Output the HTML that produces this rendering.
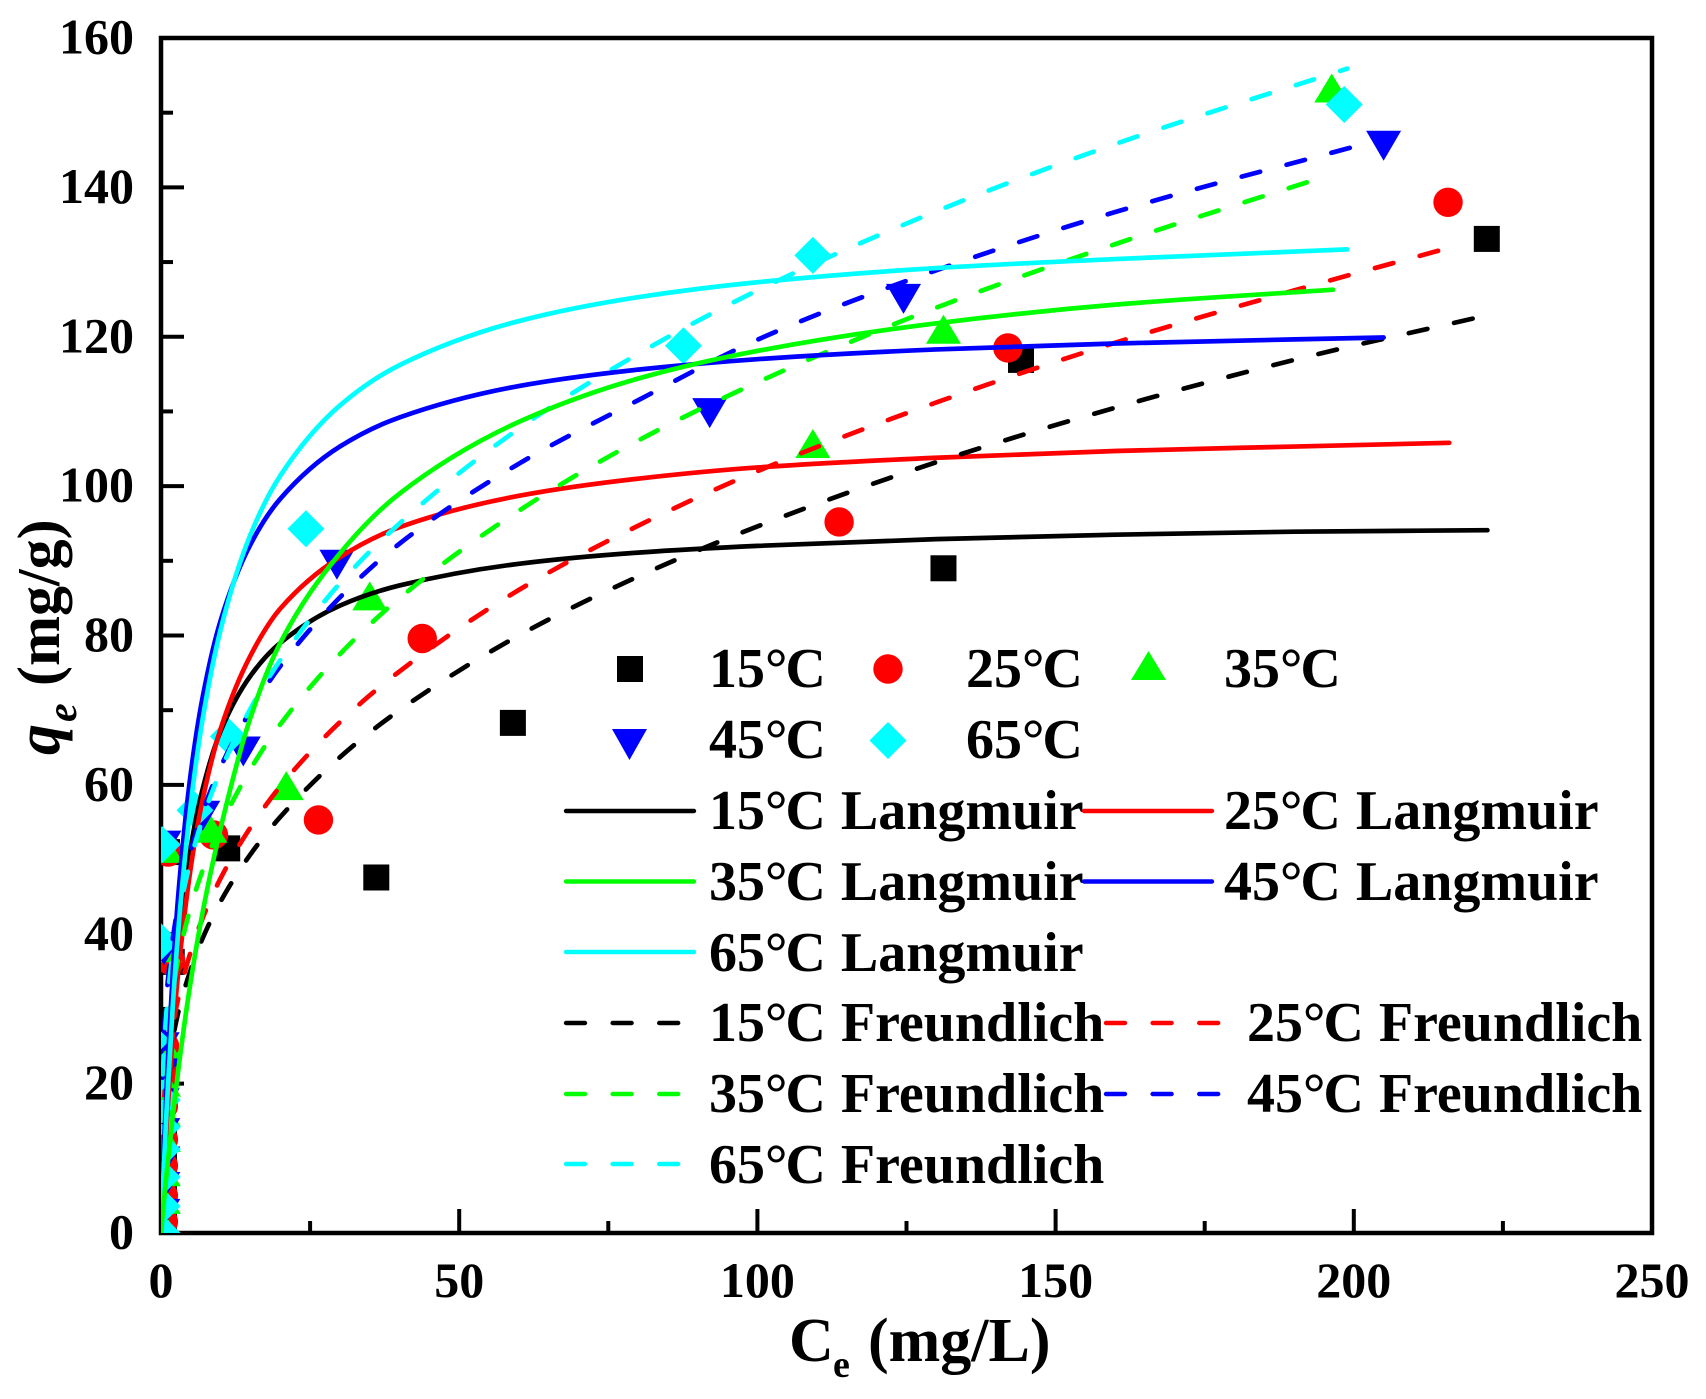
<!DOCTYPE html>
<html lang="en">
<head>
<meta charset="utf-8">
<title>Adsorption isotherms</title>
<style>
html,body{margin:0;padding:0;background:#fff;}
svg{display:block;font-family:"Liberation Serif",serif;font-weight:bold;}
</style>
</head>
<body>
<svg id="chart" xmlns="http://www.w3.org/2000/svg" width="1706" height="1399" viewBox="0 0 1706 1399">
<defs><clipPath id="plot-clip"><rect x="161" y="38" width="1491" height="1195"/></clipPath></defs>
<rect x="0" y="0" width="1706" height="1399" fill="#fff"/>
<g id="axes"></g>
<g id="marks" clip-path="url(#plot-clip)"></g>
<g id="curves" clip-path="url(#plot-clip)" fill="none" stroke-width="4.7" stroke-linecap="round" stroke-linejoin="round"></g>

<text font-size="62" fill="#000"><tspan x="789" y="1361">C</tspan><tspan x="833" y="1377" font-size="38">e</tspan><tspan x="868" y="1361">(mg/L)</tspan></text>
<g transform="translate(59,755) rotate(-90)" fill="#000">
<text x="0" y="0" font-size="62" font-style="italic">q</text>
<text x="33" y="17" font-size="42" font-style="italic">e</text>
<text x="69" y="0" font-size="60">(mg/g)</text>
</g>

<g font-size="56" fill="#000">
<g><rect x="617" y="656" width="26" height="26" fill="#000"/><text x="709" y="687">15°<tspan dx="-2">C</tspan></text></g>
<g><circle cx="888" cy="669" r="14.7" fill="#f00"/><text x="966" y="687">25°<tspan dx="-2">C</tspan></text></g>
<g><polygon points="1148.5,651 1166,680 1131,680" fill="#0f0"/><text x="1224" y="687">35°<tspan dx="-2">C</tspan></text></g>
<g><polygon points="612,729 647,729 629.5,760" fill="#00f"/><text x="709" y="758">45°<tspan dx="-2">C</tspan></text></g>
<g><polygon points="888,722 906.5,740.5 888,759 869.5,740.5" fill="#0ff"/><text x="966" y="758">65°<tspan dx="-2">C</tspan></text></g>

<g><line x1="566" x2="694" y1="811" y2="811" stroke="#000" stroke-width="4.4" stroke-linecap="round"/><text x="709" y="829">15°<tspan dx="-2">C</tspan><tspan dx="1"> Langmuir</tspan></text></g>
<g><line x1="1084" x2="1212" y1="811" y2="811" stroke="#f00" stroke-width="4.4" stroke-linecap="round"/><text x="1224" y="829">25°<tspan dx="-2">C</tspan><tspan dx="1"> Langmuir</tspan></text></g>
<g><line x1="566" x2="694" y1="881.5" y2="881.5" stroke="#0f0" stroke-width="4.4" stroke-linecap="round"/><text x="709" y="900">35°<tspan dx="-2">C</tspan><tspan dx="1"> Langmuir</tspan></text></g>
<g><line x1="1084" x2="1212" y1="881.5" y2="881.5" stroke="#00f" stroke-width="4.4" stroke-linecap="round"/><text x="1224" y="900">45°<tspan dx="-2">C</tspan><tspan dx="1"> Langmuir</tspan></text></g>
<g><line x1="566" x2="694" y1="952" y2="952" stroke="#0ff" stroke-width="4.4" stroke-linecap="round"/><text x="709" y="971">65°<tspan dx="-2">C</tspan><tspan dx="1"> Langmuir</tspan></text></g>

<g><line x1="566" x2="681" y1="1023" y2="1023" stroke="#000" stroke-width="4.4" stroke-linecap="round" stroke-dasharray="19 27.6"/><text x="709" y="1041">15°<tspan dx="-2">C</tspan><tspan dx="1"> Freundlich</tspan></text></g>
<g><line x1="1106" x2="1220" y1="1023" y2="1023" stroke="#f00" stroke-width="4.4" stroke-linecap="round" stroke-dasharray="19 27.6"/><text x="1247" y="1041">25°<tspan dx="-2">C</tspan><tspan dx="1"> Freundlich</tspan></text></g>
<g><line x1="566" x2="681" y1="1094" y2="1094" stroke="#0f0" stroke-width="4.4" stroke-linecap="round" stroke-dasharray="19 27.6"/><text x="709" y="1112">35°<tspan dx="-2">C</tspan><tspan dx="1"> Freundlich</tspan></text></g>
<g><line x1="1106" x2="1220" y1="1094" y2="1094" stroke="#00f" stroke-width="4.4" stroke-linecap="round" stroke-dasharray="19 27.6"/><text x="1247" y="1112">45°<tspan dx="-2">C</tspan><tspan dx="1"> Freundlich</tspan></text></g>
<g><line x1="566" x2="681" y1="1164" y2="1164" stroke="#0ff" stroke-width="4.4" stroke-linecap="round" stroke-dasharray="19 27.6"/><text x="709" y="1183">65°<tspan dx="-2">C</tspan><tspan dx="1"> Freundlich</tspan></text></g>
</g>
</svg>

<script>
// Tick values
const xMajorTicks = [0, 50, 100, 150, 200, 250];
const xMinorTicks = [25, 75, 125, 175, 225];
const yMajorTicks = [0, 20, 40, 60, 80, 100, 120, 140, 160];
const yMinorTicks = [10, 30, 50, 70, 90, 110, 130, 150];

// Measured points: Ce (mg/L) and qe (mg/g)
const pts15C = [0.5, 0.5, 0.5, 0.5, 0.5, 0.5, 1.8, 1.0, 11.1, 36.1, 59.0, 131.2, 144.2, 222.3];
const pts15Q = [2, 5.5, 9.4, 12.7, 20, 24, 36.3, 51, 51.5, 47.6, 68.3, 89.0, 116.9, 133.1];
const pts25C = [0.4, 0.4, 0.4, 0.4, 0.4, 0.6, 0.6, 1.6, 1.2, 8.8, 26.4, 43.8, 113.7, 142.0, 215.8];
const pts25Q = [1.5, 5, 9, 12.5, 17, 21, 25, 36.5, 51, 53.3, 55.3, 79.6, 95.2, 118.5, 138.0];
const pts35C = [0.4, 0.4, 0.4, 0.4, 0.4, 0.4, 0.4, 0.7, 0.8, 8.2, 21.0, 35.0, 109.3, 131.2, 196.3];
const pts35Q = [0.8, 4.3, 8, 12.6, 16, 20, 25, 38, 51.3, 54, 59.7, 85.1, 105.5, 120.8, 153.1];
const pts45C = [0.3, 0.3, 0.3, 0.3, 0.2, 0.2, 0.2, 0.5, 0.5, 7.0, 13.8, 29.5, 92.0, 124.5, 205.0];
const pts45Q = [2.7, 6.3, 9.7, 13.5, 17.5, 21.5, 25, 38, 52, 56, 64.6, 89.6, 109.9, 125.2, 145.7];
const pts65C = [0.2, 0.2, 0.2, 0.2, 0.2, 0.2, -1.6, -1.6, 0.0, 0.2, 5.7, 11.3, 24.3, 87.6, 109.3, 198.4];
const pts65Q = [0, 3.6, 7.5, 11.2, 14.2, 17.8, 20.5, 25.8, 39, 52, 56.6, 66.5, 94.3, 118.8, 130.9, 151.1];

// Langmuir fit curves
const lang15C = [0, 0.5, 1, 2, 3, 5, 7, 10, 15, 20, 30, 40, 60, 80, 100, 130, 160, 190, 222.4];
const lang15Q = [0, 10.0, 18.1, 30.5, 39.5, 51.7, 59.5, 67.2, 74.6, 79.0, 84.0, 86.7, 89.6, 91.1, 92.0, 92.9, 93.5, 93.9, 94.1];
const lang25C = [0, 0.5, 1, 2, 3, 5, 7, 10, 15, 20, 30, 40, 60, 80, 100, 130, 160, 190, 216];
const lang25Q = [0, 8.2, 15.3, 26.8, 35.8, 49.0, 58.1, 67.5, 77.3, 83.6, 90.5, 94.5, 98.7, 101.0, 102.5, 103.8, 104.7, 105.3, 105.8];
const lang35C = [0, 0.5, 1, 2, 3, 5, 7, 10, 15, 20, 30, 40, 60, 80, 100, 130, 160, 196.5];
const lang35Q = [0, 4.4, 8.4, 15.9, 22.5, 33.8, 43.0, 54.2, 69.0, 79.0, 91.0, 99.0, 108.6, 114.4, 118.1, 121.8, 124.3, 126.3];
const lang45C = [0, 0.5, 1, 2, 3, 5, 7, 10, 15, 20, 30, 40, 60, 80, 100, 130, 160, 205];
const lang45Q = [0, 11.2, 20.6, 35.2, 46.2, 61.6, 71.8, 82.0, 92.2, 98.3, 105.3, 109.2, 113.4, 115.6, 117.0, 118.3, 119.1, 119.9];
const lang65C = [0, 0.5, 1, 2, 3, 5, 7, 10, 15, 20, 30, 40, 60, 80, 100, 130, 160, 198.9];
const lang65Q = [0, 9.3, 17.4, 30.8, 41.5, 57.5, 68.9, 80.8, 93.5, 101.4, 110.8, 116.2, 122.1, 125.3, 127.3, 129.2, 130.4, 131.7];

// Freundlich fit curves
const freu15C = [0.1, 0.3, 0.5, 1, 2, 3, 5, 7, 10, 15, 20, 30, 40, 60, 80, 100, 130, 160, 190, 220.3];
const freu15Q = [9.8, 14.0, 16.6, 20.8, 26.1, 29.9, 35.3, 39.5, 44.4, 50.7, 55.7, 63.7, 70.0, 80.0, 87.9, 94.6, 103.2, 110.5, 116.9, 122.5];
const freu25C = [0.1, 0.3, 0.5, 1, 2, 3, 5, 7, 10, 15, 20, 30, 40, 60, 80, 100, 130, 160, 190, 215];
const freu25Q = [10.3, 14.8, 17.6, 22.1, 27.8, 31.8, 37.7, 42.2, 47.5, 54.3, 59.8, 68.4, 75.2, 86.1, 94.7, 102.0, 111.2, 119.2, 126.2, 131.7];
const freu35C = [0.1, 0.3, 0.5, 1, 2, 3, 5, 7, 10, 15, 20, 30, 40, 60, 80, 100, 130, 160, 193];
const freu35Q = [12.5, 17.8, 20.9, 26.1, 32.6, 37.1, 43.7, 48.6, 54.5, 62.1, 68.1, 77.5, 85.0, 96.7, 106.1, 113.9, 123.9, 132.4, 140.9];
const freu45C = [0.1, 0.3, 0.5, 1, 2, 3, 5, 7, 10, 15, 20, 30, 40, 60, 80, 100, 130, 160, 202.6];
const freu45Q = [16.9, 23.1, 26.7, 32.5, 39.5, 44.4, 51.2, 56.4, 62.4, 69.9, 75.9, 85.1, 92.3, 103.0, 111.5, 119.6, 128.9, 136.7, 146.0];
const freu65C = [0.1, 0.3, 0.5, 1, 2, 3, 5, 7, 10, 15, 20, 30, 40, 60, 80, 100, 130, 160, 198.9];
const freu65Q = [14.9, 21.0, 24.5, 30.4, 37.7, 42.7, 50.0, 55.5, 61.9, 70.2, 76.7, 87.0, 95.0, 107.7, 117.7, 126.2, 136.8, 145.8, 155.9];

const SVG_NS = 'http://www.w3.org/2000/svg';
const PLOT = { left: 161, right: 1652, top: 38, bottom: 1233 };
const X_MAX = 250;
const Y_MAX = 160;

function sx(v) { return PLOT.left + (v / X_MAX) * (PLOT.right - PLOT.left); }
function sy(v) { return PLOT.bottom - (v / Y_MAX) * (PLOT.bottom - PLOT.top); }

function make(tag, attrs, parent) {
  const node = document.createElementNS(SVG_NS, tag);
  for (const k in attrs) node.setAttribute(k, attrs[k]);
  parent.appendChild(node);
  return node;
}

// Monotone cubic path (weighted harmonic tangents) through the data
function curvePath(xs, ys) {
  const n = xs.length;
  const px = xs.map(sx), py = ys.map(sy);
  const d = [], h = [], m = new Array(n);
  for (let i = 0; i < n - 1; i++) {
    h.push(px[i + 1] - px[i]);
    d.push((py[i + 1] - py[i]) / h[i]);
  }
  m[0] = d[0];
  m[n - 1] = d[n - 2];
  for (let i = 1; i < n - 1; i++) {
    const w1 = 2 * h[i] + h[i - 1], w2 = h[i] + 2 * h[i - 1];
    m[i] = d[i - 1] * d[i] <= 0 ? 0 : (w1 + w2) / (w1 / d[i - 1] + w2 / d[i]);
  }
  let path = 'M' + px[0].toFixed(2) + ' ' + py[0].toFixed(2);
  for (let i = 0; i < n - 1; i++) {
    const t = h[i] / 3;
    path += 'C' + (px[i] + t).toFixed(2) + ' ' + (py[i] + m[i] * t).toFixed(2) + ' ' +
      (px[i + 1] - t).toFixed(2) + ' ' + (py[i + 1] - m[i + 1] * t).toFixed(2) + ' ' +
      px[i + 1].toFixed(2) + ' ' + py[i + 1].toFixed(2);
  }
  return path;
}

// Axes
const axesLayer = document.getElementById('axes');
const frame = make('rect', { x: PLOT.left, y: PLOT.top, width: PLOT.right - PLOT.left, height: PLOT.bottom - PLOT.top, fill: 'none', stroke: '#000', 'stroke-width': 4.5 }, axesLayer);



xMajorTicks.forEach(function (v) {
  const t = make('line', { x1: sx(v), x2: sx(v), y1: PLOT.bottom, y2: PLOT.bottom - 24, stroke: '#000', 'stroke-width': 4 }, axesLayer);
  
  
  const lab = make('text', { x: sx(v), y: 1297, 'text-anchor': 'middle', 'font-size': 50, fill: '#000' }, axesLayer);
  lab.textContent = String(v);
  
  
});
xMinorTicks.forEach(function (v) {
  const t = make('line', { x1: sx(v), x2: sx(v), y1: PLOT.bottom, y2: PLOT.bottom - 12, stroke: '#000', 'stroke-width': 4 }, axesLayer);
  
  
});
yMajorTicks.forEach(function (v) {
  const t = make('line', { x1: PLOT.left, x2: PLOT.left + 23, y1: sy(v), y2: sy(v), stroke: '#000', 'stroke-width': 4 }, axesLayer);
  
  
  const lab = make('text', { x: 134, y: sy(v) + 15.6, 'text-anchor': 'end', 'font-size': 50, fill: '#000' }, axesLayer);
  lab.textContent = String(v);
  
  
});
yMinorTicks.forEach(function (v) {
  const t = make('line', { x1: PLOT.left, x2: PLOT.left + 12, y1: sy(v), y2: sy(v), stroke: '#000', 'stroke-width': 4 }, axesLayer);
  
  
});

// Markers
const markLayer = document.getElementById('marks');
pts15C.forEach(function (c, i) {
  const x = sx(c), y = sy(pts15Q[i]);
  const m = make('rect', { x: x - 13, y: y - 13, width: 26, height: 26, fill: '#000' }, markLayer);
  
  
});
pts25C.forEach(function (c, i) {
  const m = make('circle', { cx: sx(c), cy: sy(pts25Q[i]), r: 14.7, fill: '#f00' }, markLayer);
  
  
});
pts35C.forEach(function (c, i) {
  const x = sx(c), y = sy(pts35Q[i]);
  const m = make('polygon', { points: x + ',' + (y - 16) + ' ' + (x + 17.5) + ',' + (y + 13) + ' ' + (x - 17.5) + ',' + (y + 13), fill: '#0f0' }, markLayer);
  
  
});
pts45C.forEach(function (c, i) {
  const x = sx(c), y = sy(pts45Q[i]);
  const m = make('polygon', { points: (x - 17.5) + ',' + (y - 14) + ' ' + (x + 17.5) + ',' + (y - 14) + ' ' + x + ',' + (y + 16), fill: '#00f' }, markLayer);
  
  
});
pts65C.forEach(function (c, i) {
  const x = sx(c), y = sy(pts65Q[i]);
  const m = make('polygon', { points: x + ',' + (y - 18.5) + ' ' + (x + 18.5) + ',' + y + ' ' + x + ',' + (y + 18.5) + ' ' + (x - 18.5) + ',' + y, fill: '#0ff' }, markLayer);
  
  
});

// Fit curves, in stacking order
const curveLayer = document.getElementById('curves');
const DASH_ON = 19;
const DASH_OFF = 27.4;
const CAP = 2.35;
function drawSolid(xs, ys, color) {
  return make('path', { d: curvePath(xs, ys), stroke: color }, curveLayer);
}
// Dashed curve; the dash pattern is phased so one dash ends at abscissa phaseC
function drawDashed(xs, ys, color, phaseC) {
  const p = make('path', { d: curvePath(xs, ys), stroke: color, 'stroke-dasharray': DASH_ON + ' ' + DASH_OFF }, curveLayer);
  const target = sx(phaseC);
  const total = p.getTotalLength();
  let lo = 0, hi = total;
  for (let i = 0; i < 30; i++) {
    const mid = (lo + hi) / 2;
    if (p.getPointAtLength(mid).x < target) lo = mid; else hi = mid;
  }
  const period = DASH_ON + DASH_OFF;
  const off = ((DASH_ON + CAP - lo) % period + period) % period;
  p.setAttribute('stroke-dashoffset', off.toFixed(2));
  return p;
}
const curveL15 = drawSolid(lang15C, lang15Q, '#000');


const curveL25 = drawSolid(lang25C, lang25Q, '#f00');


const curveF15 = drawDashed(freu15C, freu15Q, '#000', 220.3);


const curveF25 = drawDashed(freu25C, freu25Q, '#f00', 214.5);


const curveF35 = drawDashed(freu35C, freu35Q, '#0f0', 192.5);


const curveF45 = drawDashed(freu45C, freu45Q, '#00f', 199.7);


const curveF65 = drawDashed(freu65C, freu65Q, '#0ff', 193.7);


const curveL45 = drawSolid(lang45C, lang45Q, '#00f');


const curveL65 = drawSolid(lang65C, lang65Q, '#0ff');


const curveL35 = drawSolid(lang35C, lang35Q, '#0f0');


</script>
</body>
</html>
